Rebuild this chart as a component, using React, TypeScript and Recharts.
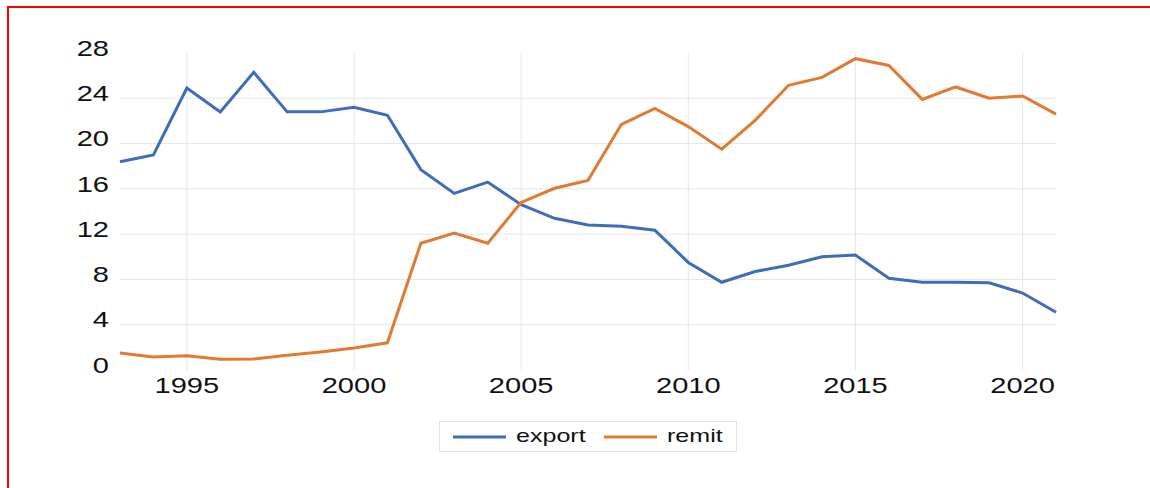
import { LineChart, Line, XAxis, YAxis, CartesianGrid } from "recharts";

const years = [
  1993, 1994, 1995, 1996, 1997, 1998, 1999, 2000, 2001, 2002, 2003, 2004, 2005, 2006, 2007,
  2008, 2009, 2010, 2011, 2012, 2013, 2014, 2015, 2016, 2017, 2018, 2019, 2020, 2021,
];
const exportVals = [
  18.4, 19.0, 24.9, 22.8, 26.3, 22.8, 22.8, 23.2, 22.5, 17.7, 15.6, 16.6, 14.6, 13.4, 12.8,
  12.7, 12.35, 9.5, 7.75, 8.7, 9.25, 10.0, 10.15, 8.1, 7.75, 7.75, 7.7, 6.8, 5.1,
];
const remitVals = [
  1.5, 1.15, 1.25, 0.95, 0.97, 1.3, 1.6, 1.95, 2.4, 11.2, 12.1, 11.2, 14.8, 16.05, 16.75,
  21.7, 23.1, 21.5, 19.5, 22.05, 25.15, 25.85, 27.5, 26.9, 23.9, 25.0, 24.0, 24.2, 22.6,
];
const xTicks = [1995, 2000, 2005, 2010, 2015, 2020];
const yTicks = [0, 4, 8, 12, 16, 20, 24, 28];
const gridY = [4, 8, 12, 16, 20, 24];

const BLUE = "#3f6db8";
const ORANGE = "#df7b32";
const FONT = "'Liberation Sans', Arial, sans-serif";

const data = years.map((year, i) => ({ year, export: exportVals[i], remit: remitVals[i] }));

function YTick({ x, y, payload }: any) {
  return (
    <text
      transform={`translate(${x - 11},${y - 5}) scale(1.32,1)`}
      textAnchor="end"
      dominantBaseline="central"
      fontSize={22}
      fontFamily={FONT}
      fill="#111"
    >
      {payload.value}
    </text>
  );
}

function XTick({ x, y, payload }: any) {
  return (
    <text
      transform={`translate(${x},${y + 15}) scale(1.32,1)`}
      textAnchor="middle"
      dominantBaseline="central"
      fontSize={22}
      fontFamily={FONT}
      fill="#111"
    >
      {payload.value}
    </text>
  );
}

function LegendBox() {
  const items = [
    { label: "export", color: BLUE },
    { label: "remit", color: ORANGE },
  ];
  return (
    <div
      style={{
        position: "absolute",
        left: 439,
        top: 421,
        width: 298,
        height: 31,
        boxSizing: "border-box",
        border: "1px solid #e4e4e4",
        background: "#fff",
      }}
    >
      <svg width={296} height={29}>
        {items.map((it, i) => (
          <g key={it.label} transform={`translate(${13 + i * 151},0)`}>
            <line x1={0} x2={53} y1={15} y2={15} stroke={it.color} strokeWidth={3} />
            <text
              transform={`translate(63,14) scale(1.32,1)`}
              dominantBaseline="central"
              fontSize={19}
              fontFamily={FONT}
              fill="#111"
            >
              {it.label}
            </text>
          </g>
        ))}
      </svg>
    </div>
  );
}

export default function App() {
  return (
    <div
      style={{
        position: "absolute",
        left: 0,
        top: 0,
        width: 1150,
        height: 488,
        background: "#fff",
        overflow: "hidden",
      }}
    >
      <div
        style={{
          position: "absolute",
          left: 7,
          top: 6,
          width: 1300,
          height: 700,
          border: "2px solid #ff0000",
        }}
      />
      <div style={{ position: "absolute", left: 0, top: 0 }}>
        <LineChart
          width={1150}
          height={488}
          data={data}
          margin={{ top: 53, right: 94, left: 60, bottom: 88 }}
        >
          <CartesianGrid
            stroke="#e6e6e6"
            strokeWidth={1}
            horizontalValues={gridY}
            verticalValues={xTicks}
          />
          <XAxis
            dataKey="year"
            type="number"
            domain={[1993, 2021]}
            ticks={xTicks}
            axisLine={false}
            tickLine={false}
            tickSize={0}
            tickMargin={0}
            height={30}
            tick={<XTick />}
            interval={0}
          />
          <YAxis
            domain={[0, 28]}
            ticks={yTicks}
            axisLine={false}
            tickLine={false}
            tickSize={0}
            tickMargin={0}
            width={60}
            tick={<YTick />}
            interval={0}
          />
          <Line
            type="linear"
            dataKey="export"
            stroke={BLUE}
            strokeWidth={3}
            dot={false}
            isAnimationActive={false}
          />
          <Line
            type="linear"
            dataKey="remit"
            stroke={ORANGE}
            strokeWidth={3}
            dot={false}
            isAnimationActive={false}
          />
        </LineChart>
      </div>
      <LegendBox />
    </div>
  );
}
